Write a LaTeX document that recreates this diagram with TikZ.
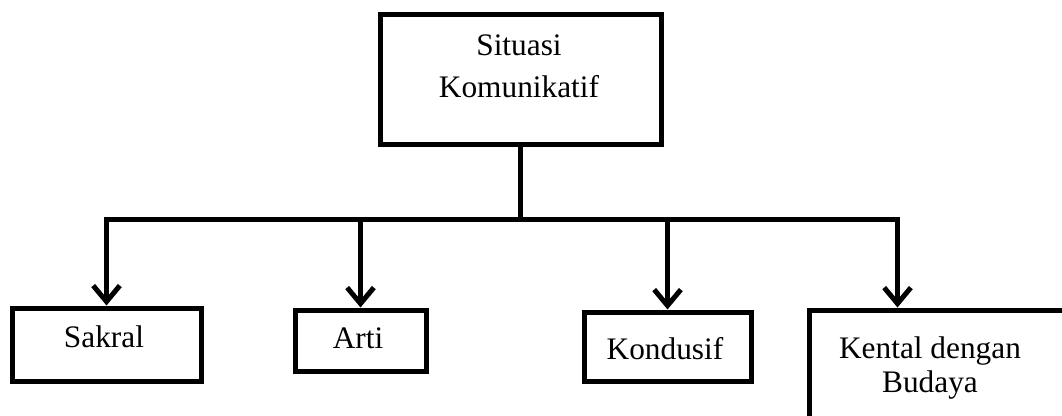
\documentclass[tikz,border=0pt]{standalone}
\usepackage{fontspec}
\setmainfont{Liberation Serif}
\usetikzlibrary{arrows.meta,fit,positioning}
\tikzset{
  box/.style={draw, line width=3.75pt, inner sep=0pt},
  lbl/.style={font=\fontsize{23.5pt}{28pt}\selectfont, align=center, inner sep=0pt},
  link/.style={line width=3.75pt},
  arrow/.style={link, -{Straight Barb[length=12pt,width=20pt]}},
}
\begin{document}
\begin{tikzpicture}[x=0.75pt,y=0.75pt,yscale=-1,xscale=1]
    \clip (0,0) rectangle (1062,416);
    %Boxes
    \node[box, fit={(380,15) (661,145)}] (situasi) {};
    \node[box, fit={(12,308) (201,381)}] (sakral) {};
    \node[box, fit={(295,310) (426,371)}] (arti) {};
    \node[box, fit={(584,312) (751,381)}] (kondusif) {};
    \node[box, fit={(809,310) (1075,440)}] (kental) {};
    %Labels
    \node[lbl, anchor=base] (tsituasi) at (519,98) {Situasi\\[4pt]Komunikatif};
    \node[lbl, anchor=base] (tsakral) at (104,347) {Sakral};
    \node[lbl, anchor=base] (tarti) at (358,348) {Arti};
    \node[lbl, anchor=base] (tkondusif) at (665,359) {Kondusif};
    \node[lbl, anchor=base] (tkental) at (930,392) {Kental dengan\\[-2.5pt]Budaya};
    %Connectors
    \coordinate (bus) at (520.5,220);
    \draw[link] (situasi) -- (bus);
    \draw[arrow] (bus) -| (sakral.north);
    \draw[arrow] (bus) -| (arti.north);
    \draw[arrow] (bus) -| (kondusif.north);
    \draw[arrow] (bus) -| ([xshift=68.25pt]kental.north west);
\end{tikzpicture}
\end{document}
